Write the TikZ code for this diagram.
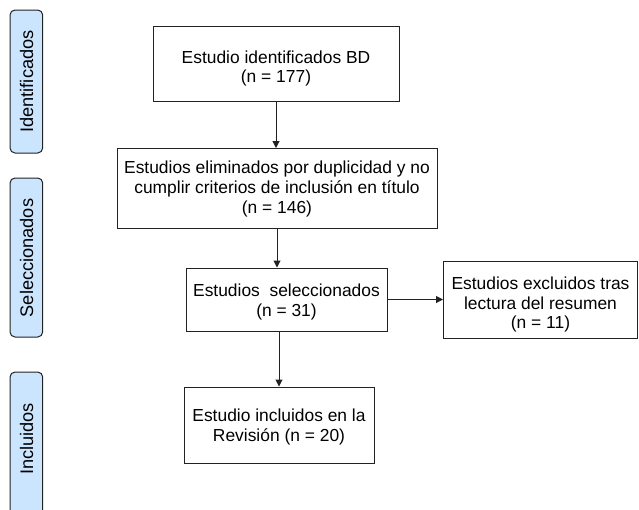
\documentclass[tikz,border=0pt]{standalone}
\usepackage{fontspec}
\setmainfont{Liberation Sans}
\usetikzlibrary{arrows.meta}
\definecolor{stageblue}{HTML}{CCE5FF}
\definecolor{edgegray}{HTML}{222222}
\newcommand{\dropby}[1]{\rule{0pt}{\dimexpr 12.7pt+2\dimexpr #1\relax\relax}}
\begin{document}
\begin{tikzpicture}[x=1pt,y=-1pt,
  box/.style={draw=edgegray, line width=1pt, rectangle, inner sep=0pt, align=center,
    font=\fontsize{17.4}{19.7}\selectfont},
  stage/.style={draw=edgegray, fill=stageblue, line width=1pt, rounded corners=5pt},
  stagelabel/.style={rotate=90, inner sep=0pt, font=\fontsize{18.2}{20}\selectfont},
  arr/.style={draw=edgegray, line width=1pt, -{Triangle[width=7pt,length=7pt]}}]
\useasboundingbox (0,0) rectangle (639,509);
\begin{scope}
\clip (0,0) rectangle (639,509);
\draw[stage] (10,10) rectangle (42.7,153);
\node[stagelabel] (lid) at (26.5,81.5) {Identificados};
\draw[stage] (10,178) rectangle (42.7,337);
\node[stagelabel] (lsel) at (26.5,258) {Seleccionados};
\draw[stage] (10,372) rectangle (42.7,520);
\node[stagelabel] (linc) at (26.5,439) {Incluidos};
\end{scope}

\node[box, minimum width=246pt, minimum height=75pt] (b1) at (276,63.5)
  {\dropby{5pt}Estudio identificados BD\\(n = 177)};
\node[box, minimum width=320pt, minimum height=80pt] (b2) at (277,188.5)
  {\dropby{0.5pt}Estudios eliminados por duplicidad y no\\cumplir criterios de inclusión en título\\(n = 146)};
\node[box, minimum width=201pt, minimum height=63pt] (b3) at (286.5,299.5)
  {\dropby{2.5pt}Estudios\ \ seleccionados\\(n = 31)};
\node[box, minimum width=194pt, minimum height=77pt] (b4) at (540.5,299.5)
  {\dropby{5pt}Estudios excluidos tras\\lectura del resumen\\(n = 11)};
\node[box, minimum width=190pt, minimum height=76pt] (b5) at (279,425)
  {\dropby{2pt}Estudio incluidos en la\\Revisión (n = 20)};

\draw[arr] (b1.south) -- (b1.south |- b2.north);
\draw[arr] (b2.south) -- (b2.south |- b3.north);
\draw[arr] (b5.north |- b3.south) -- (b5.north);
\draw[arr] (b3.east) -- (b4.west);
\end{tikzpicture}
\end{document}
